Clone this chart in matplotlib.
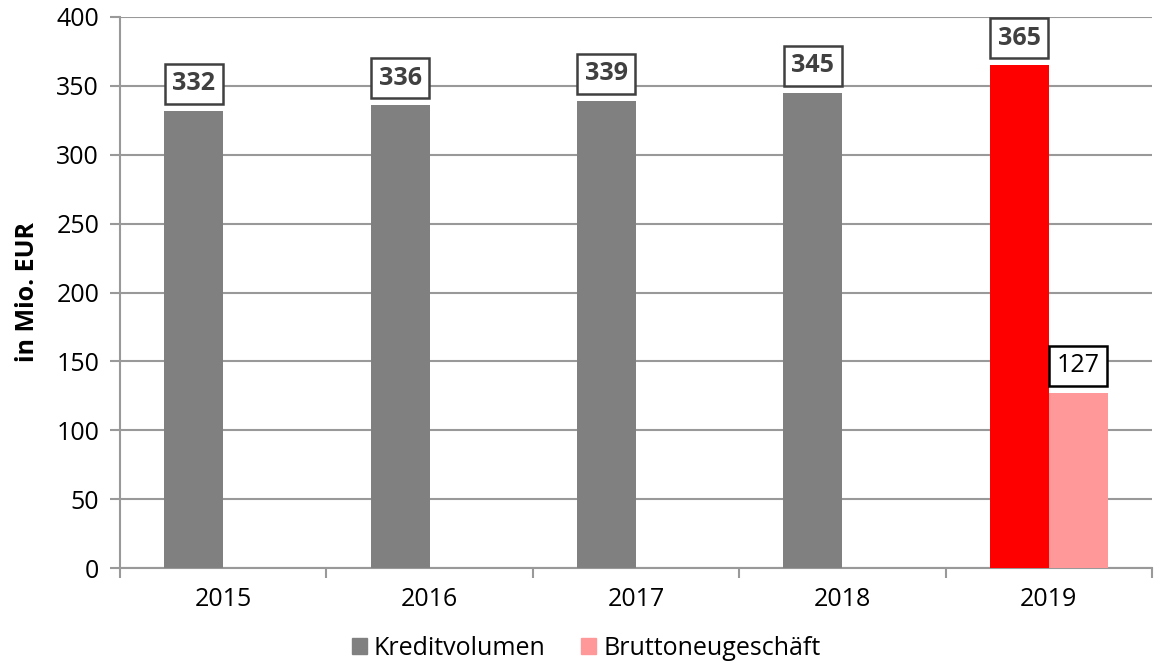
import matplotlib.pyplot as plt
from matplotlib.patches import Patch
import numpy as np

plt.rcParams['font.family'] = ['Open Sans', 'DejaVu Sans']

years = ['2015', '2016', '2017', '2018', '2019']
kreditvolumen = [332, 336, 339, 345, 365]
bruttoneugeschaeft = [None, None, None, None, 127]

kredit_colors = ['#808080', '#808080', '#808080', '#808080', '#ff0000']
brutto_color = '#ff9999'

fig = plt.figure(figsize=(11.56, 6.67), dpi=100)
ax = fig.add_axes([120 / 1156, 1 - 568 / 667, 1032 / 1156, 551 / 667])

x = np.arange(len(years))
w = 0.286

ax.bar(x - w / 2, kreditvolumen, w, color=kredit_colors, zorder=3)
for i, v in enumerate(kreditvolumen):
    ax.annotate(str(v), (x[i] - w / 2, v), xytext=(0, 19.5), textcoords='offset points',
                ha='center', va='center', fontsize=18, fontweight='bold', color='#404040',
                bbox=dict(boxstyle='square,pad=0.3', fc='white', ec='#404040', lw=1.8), zorder=5)

bx = [x[i] + w / 2 for i, v in enumerate(bruttoneugeschaeft) if v is not None]
bv = [v for v in bruttoneugeschaeft if v is not None]
ax.bar(bx, bv, w, color=brutto_color, zorder=3)
for xi, v in zip(bx, bv):
    ax.annotate(str(v), (xi, v), xytext=(0, 19.5), textcoords='offset points',
                ha='center', va='center', fontsize=18, color='black',
                bbox=dict(boxstyle='square,pad=0.3', fc='white', ec='black', lw=1.8), zorder=5)

ax.set_xlim(-0.5, len(years) - 0.5)
ax.set_ylim(0, 400)
ax.set_yticks(range(0, 401, 50))
ax.set_xticks(x)
ax.set_xticklabels(years)
ax.set_xticks(np.arange(-0.5, len(years), 1), minor=True)
ax.tick_params(axis='x', which='major', length=0, pad=14, labelsize=18)
ax.tick_params(axis='x', which='minor', length=7, color='#999999', width=1.5)
ax.tick_params(axis='y', length=7, color='#999999', width=1.5, labelsize=18, pad=8)
ax.grid(axis='y', color='#999999', lw=1.5, zorder=0)
ax.set_axisbelow(True)

for s in ['top', 'right']:
    ax.spines[s].set_visible(False)
ax.spines['left'].set_color('#999999')
ax.spines['left'].set_linewidth(1.5)
ax.spines['bottom'].set_color('#999999')
ax.spines['bottom'].set_linewidth(1.5)

ax.set_ylabel('in Mio. EUR', fontsize=18, fontweight='bold', labelpad=12)

handles = [Patch(color='#808080', label='Kreditvolumen'),
           Patch(color=brutto_color, label='Bruttoneugeschäft')]
fig.legend(handles=handles, loc='lower center', bbox_to_anchor=(586 / 1156, -0.025), ncol=2,
           frameon=False, fontsize=18, handlelength=0.6, handleheight=0.6,
           handletextpad=0.3, columnspacing=1.4)

fig.savefig('out.png', dpi=100)
